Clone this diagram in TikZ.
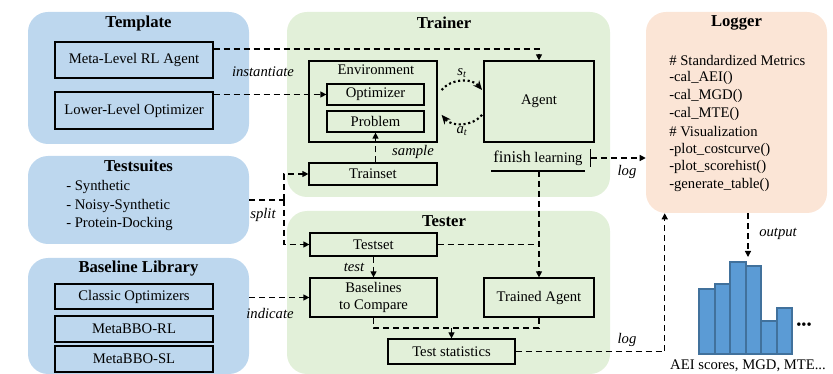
\documentclass[tikz,border=0pt]{standalone}
\usepackage{fontspec}
\setmainfont{Liberation Serif}
\usetikzlibrary{arrows.meta}

\definecolor{tplblue}{HTML}{BDD7EE}
\definecolor{runGreen}{HTML}{E2F0D9}
\definecolor{logPeach}{HTML}{FBE5D6}
\definecolor{barBlue}{HTML}{5B9BD5}
\definecolor{barEdge}{HTML}{41719C}

\tikzset{
  panel/.style={rounded corners=15pt, inner sep=0pt},
  bluepanel/.style={panel, fill=tplblue},
  greenpanel/.style={panel, fill=runGreen},
  peachpanel/.style={panel, fill=logPeach},
  ttl/.style={font=\fontsize{12.5}{15}\selectfont\bfseries, inner sep=0pt},
  cell/.style={draw, line width=0.9pt, inner sep=0pt, align=center},
  lbl/.style={font=\fontsize{11}{13}\selectfont\itshape, inner sep=0pt},
  plain/.style={inner sep=0pt, anchor=west},
  dline/.style={line width=0.9pt, dash pattern=on 4.5pt off 3pt},
  tip/.style={-{Triangle[length=4.5pt,width=4.5pt]}},
  dotarrow/.style={line width=1.6pt, dotted, -{Stealth[length=7pt,width=6pt]}},
}

\begin{document}
\begin{tikzpicture}[x=0.75pt, y=-0.75pt, font=\fontsize{11}{13.3}\selectfont]
\useasboundingbox (0,0) rectangle (833,374);

% ---------- background panels ----------
\node[bluepanel, minimum width=165.75pt, minimum height=99pt]   (tpl)    at (138.5,78)   {};
\node[bluepanel, minimum width=165.75pt, minimum height=66pt]   (suites) at (138.5,200)  {};
\node[bluepanel, minimum width=165.75pt, minimum height=87pt]   (blib)   at (138.5,316)  {};
\node[greenpanel, minimum width=242.25pt, minimum height=138.75pt] (trainer) at (448.5,104.5) {};
\node[greenpanel, minimum width=242.25pt, minimum height=122.25pt] (tester)  at (448.5,292.5) {};
\node[peachpanel, minimum width=135.75pt, minimum height=150.75pt] (logger)  at (736.5,112.5) {};

% ---------- panel titles ----------
\node[ttl] (tplT)     at (138.5,23)  {Template};
\node[ttl] (suitesT)  at (138.5,166) {Testsuites};
\node[ttl] (blibT)    at (138.5,269) {Baseline Library};
\node[ttl] (trainerT) at (444,23)    {Trainer};
\node[ttl] (testerT)  at (444,221)   {Tester};
\node[ttl] (loggerT)  at (736.5,23)  {Logger};

% ---------- template ----------
\node[cell, minimum width=118.5pt, minimum height=27pt]    (meta)  at (134,60)    {Meta-Level RL Agent};
\node[cell, minimum width=118.5pt, minimum height=27.75pt] (lower) at (134,110.5) {Lower-Level Optimizer};

% ---------- testsuites ----------
\node[plain] (s1) at (66,187) {- Synthetic};
\node[plain] (s2) at (66,206) {- Noisy-Synthetic};
\node[plain] (s3) at (66,224) {- Protein-Docking};

% ---------- baseline library ----------
\node[cell, minimum width=118.5pt, minimum height=18.75pt] (classic) at (134,296.5) {Classic Optimizers};
\node[cell, minimum width=118.5pt, minimum height=19.5pt]  (mrl)     at (134,329)   {MetaBBO-RL};
\node[cell, minimum width=118.5pt, minimum height=19.5pt]  (msl)     at (134,359)   {MetaBBO-SL};

% ---------- trainer ----------
\node[cell, minimum width=96pt, minimum height=60.75pt] (env) at (373,101.5) {};
\node[inner sep=0pt] (envT) at (376,70) {Environment};
\node[cell, minimum width=72.75pt, minimum height=15.75pt] (opt)  at (375.5,94.5)  {Optimizer};
\node[cell, minimum width=72.75pt, minimum height=15.75pt] (prob) at (375.5,121.5) {Problem};
\node[cell, minimum width=82.5pt, minimum height=60.75pt]  (agent) at (539,101.5) {Agent};
\node[cell, minimum width=96pt, minimum height=16.5pt] (trainset) at (373,174) {Trainset};
\node[inner sep=0pt, minimum width=69.75pt, anchor=base] (fin) at (538,163)
  {{\fontsize{12.3}{14}\selectfont finish} learning};
\coordinate (finbase) at (538,171);
\draw[line width=0.9pt] (finbase -| fin.west) -- (finbase -| fin.east);

% ---------- tester ----------
\node[cell, minimum width=95.25pt, minimum height=17.25pt] (testset) at (373.5,244.5) {Testset};
\node[cell, minimum width=95.25pt, minimum height=29.25pt] (cmp)     at (373.5,297.5) {Baselines\\to Compare};
\node[cell, minimum width=82.5pt, minimum height=29.25pt]  (tagent)  at (539,297.5)   {Trained Agent};
\node[cell, minimum width=95.25pt, minimum height=18.75pt] (stats)   at (451.5,351.5) {Test statistics};

% ---------- logger contents ----------
\foreach \txt [count=\i] in {\# Standardized Metrics, -cal\_AEI(), -cal\_MGD(), -cal\_MTE(),
    \# Visualization, -plot\_costcurve(), -plot\_scorehist(), -generate\_table()}
  \node[plain] (lg\i) at (669,{60+(\i-1)*17.9}) {\txt};

% ---------- histogram ----------
\foreach \xa/\xb/\top in {699/715/289, 715/730/284, 730/746/262, 746/761/266, 761/777/321, 777/792/308}
  \draw[fill=barBlue, draw=barEdge, line width=0.8pt] (\xa,354) rectangle (\xb,\top);
\coordinate (histtop) at (748,257);
\node[inner sep=0pt] (dots) at (804,326) {•••};
\node[inner sep=0pt] (histT) at (748,366) {AEI scores, MGD, MTE...};

% ---------- connectors ----------
% instantiate
\draw[dline, tip] ([yshift=8.25pt]meta.east) -| (agent.north);
\draw[dline, tip] (lower.east |- opt.west) -- (opt.west);
\node[lbl] (instL) at (263,72) {instantiate};

% environment <-> agent
\draw[dotarrow] ([xshift=3pt,yshift=8.6pt]env.east) to[bend left=50] ([xshift=-1pt,yshift=8.6pt]agent.west);
\draw[dotarrow] ([xshift=-1pt,yshift=-10pt]agent.west) to[bend left=50] ([xshift=3pt,yshift=-10pt]env.east);
\node[lbl] (stL) at (462,73)  {s\textsubscript{t}};
\node[lbl] (atL) at (462,131) {a\textsubscript{t}};

% sample
\draw[dline, tip] (trainset.north -| prob.south) -- (prob.south);
\node[lbl] (sampleL) at (413,152) {sample};

% split
\coordinate (sp) at (284,200);
\draw[dline] (suites.east |- sp) -- (sp);
\draw[dline, tip] (sp) |- (trainset.west);
\draw[dline, tip] (sp) |- (testset.west);
\node[lbl] (splitL) at (263,215) {split};

% indicate
\draw[dline, tip] (blib.east |- cmp.west) -- (cmp.west);
\node[lbl] (indL) at (270,313) {indicate};

% finish learning -> trained agent, testset joins
\draw[dline, tip] (finbase -| tagent.north) -- (tagent.north);
\draw[dline] (testset.east) -- (testset.east -| tagent.north);

% test
\draw[dline, tip] (testset.south) -- (cmp.north);
\node[lbl] (testL) at (354,267) {test};

% merge into test statistics
\coordinate (mrg) at (451.5,328);
\draw[dline] (cmp.south) |- (mrg -| tagent.south) -- (tagent.south);
\draw[dline, tip] (mrg) -- (stats.north);

% log arrows
\coordinate (lgstart) at (590,158);
\draw[dline, {Bar[width=13pt,line width=0.9pt]}-{Triangle[length=4.5pt,width=4.5pt]}] (lgstart) -- (logger.west |- lgstart);
\node[lbl] (log1) at (627,172) {log};
\draw[dline, tip] (stats.east) -| ([xshift=14.25pt]logger.south west);
\node[lbl] (log2) at (627,340) {log};

% output
\draw[dline, tip] (logger.south -| histtop) -- (histtop);
\node[lbl] (outL) at (778,234) {output};
\end{tikzpicture}
\end{document}
